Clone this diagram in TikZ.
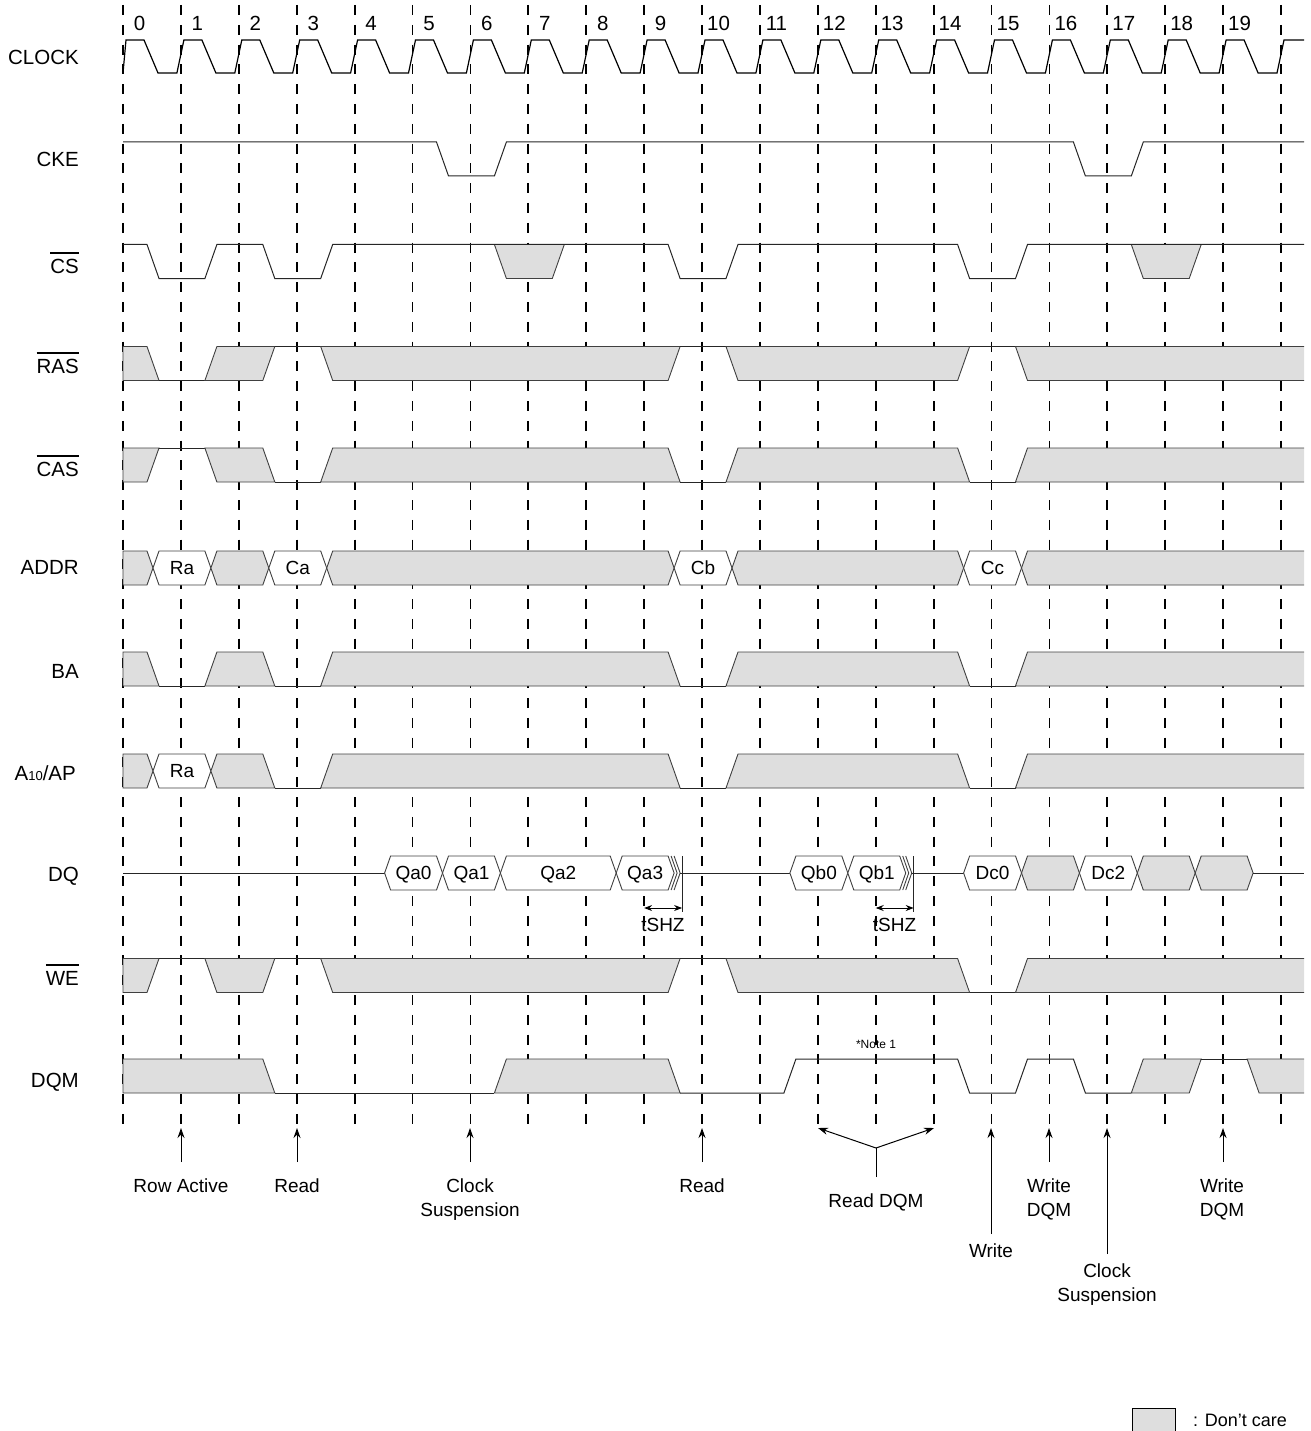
\documentclass[tikz,border=0pt]{standalone}
\usepackage{fontspec}
\setmainfont{Liberation Sans}
\usetikzlibrary{arrows.meta}
\definecolor{dcgray}{RGB}{222,222,222}
\newcommand\xL[1]{(123+57.9*(#1))}
\newcommand\tS[1]{(147+57.9*(#1))}
\newcommand\tE[1]{(159+57.9*(#1))}
\newcommand\busseg[3]{\filldraw[#3] ({\tS{#1}+6},0) -- ({\tE{#1}},-17) -- ({\tS{#2}},-17) -- ({\tS{#2}+6},0) -- ({\tS{#2}},17) -- ({\tE{#1}},17) -- cycle;}
\newcommand\busmid[2]{({(\tS{#1}+\tS{#2})/2+6},6.8)}
\newcommand\hiz[1]{\draw[dcl] ({\tS{#1}+3},-17) -- ({\tS{#1}+9},0) -- ({\tS{#1}+3},17);
  \draw[dcl] ({\tS{#1}+6},-17) -- ({\tS{#1}+12},0) -- ({\tS{#1}+6},17);
  \draw[sig] ({\tS{#1}+14},-17) -- ({\tS{#1}+14},39);}
\newcommand\lowtail{%
  \filldraw[dc] ({\tS{3}},17) -- ({\tE{3}},-17) -- ({\tS{9}},-17) -- ({\tE{9}},17) -- cycle;
  \draw[sig] ({\tE{9}},17) -- ({\tS{10}},17);
  \filldraw[dc] ({\tS{10}},17) -- ({\tE{10}},-17) -- ({\tS{14}},-17) -- ({\tE{14}},17) -- cycle;
  \draw[sig] ({\tE{14}},17) -- ({\tS{15}},17);
  \fill[dcgray] ({\tS{15}},17) -- ({\tE{15}},-17) -- (1304,-17) -- (1304,17) -- cycle;
  \draw[dcl] (1304,17) -- ({\tS{15}},17) -- ({\tE{15}},-17) -- (1304,-17);}
\newcommand\ovl[1]{\leavevmode\vbox{\hrule height 1.6pt\kern 5pt\hbox{#1}}}
\tikzset{
  sig/.style={line width=1pt, draw=black!85},
  clk/.style={line width=1.2pt, draw=black},
  dc/.style={fill=dcgray, draw=black!75, line width=0.9pt},
  dcl/.style={draw=black!75, line width=0.9pt},
  val/.style={fill=white, draw=black!75, line width=0.9pt},
  tline/.style={line width=1.8pt, dash pattern=on 10pt off 9.8pt},
  lbl/.style={font=\fontsize{20.5}{24}\selectfont, anchor=base east, inner sep=0pt},
  num/.style={font=\fontsize{20.5}{24}\selectfont, anchor=base, inner sep=0pt},
  btxt/.style={font=\fontsize{19}{22}\selectfont, inner sep=0pt, anchor=base},
  ann/.style={font=\fontsize{19}{24}\selectfont, anchor=base, inner sep=0pt},
  arr/.style={-{Stealth[length=10pt,width=7pt]}, line width=1pt},
  dim/.style={{Stealth[length=8pt,width=6pt]}-{Stealth[length=8pt,width=6pt]}, line width=1pt},
}
\newcommand\two[2]{\begin{tabular}[t]{@{}c@{}}#1\\#2\end{tabular}}
\begin{document}
\begin{tikzpicture}[x=1pt,y=-1pt]
\useasboundingbox (0,0) rectangle (1310,1431);
% time grid
\foreach \k in {0,...,20} \draw[tline] ({\xL{\k}},5) -- ({\xL{\k}},1128);
\foreach \k in {0,...,19} \node[num] (n\k) at ({\xL{\k}+16.5},30.5) {\k};
% labels
\node[lbl] (lclk) at (79,65) {CLOCK};
\node[lbl] (lcke) at (79,167) {CKE};
\node[lbl] (lcs) at (79,273) {\ovl{CS}};
\node[lbl] (lras) at (79,373) {\ovl{RAS}};
\node[lbl] (lcas) at (79,476) {\ovl{CAS}};
\node[lbl] (laddr) at (79,574) {ADDR};
\node[lbl] (lba) at (79,678) {BA};
\node[lbl] (la10) at (76,780) {A{\fontsize{13}{13}\selectfont 10}/AP};
\node[lbl] (ldq) at (79,881) {DQ};
\node[lbl] (lwe) at (79,985) {\ovl{WE}};
\node[lbl] (ldqm) at (79,1087) {DQM};
% CLOCK
\draw[clk] (123,73) \foreach \k in {0,...,19}{ -- ({\xL{\k}+3},40) -- ({\xL{\k}+21},40) -- ({\xL{\k}+35},73) -- ({\xL{\k}+53.9},73) } -- (1284,40) -- (1304,40);
% CKE
\begin{scope}[shift={(0,159)}]
\draw[sig] (123,-17) -- ({\tS{5}},-17) -- ({\tE{5}},17) -- ({\tS{6}},17) -- ({\tE{6}},-17) -- ({\tS{16}},-17) -- ({\tE{16}},17) -- ({\tS{17}},17) -- ({\tE{17}},-17) -- (1304,-17);
\end{scope}
% CS
\begin{scope}[shift={(0,261.5)}]
\filldraw[dc] ({\tS{6}},-17) -- ({\tE{6}},17) -- ({\tS{7}},17) -- ({\tE{7}},-17) -- cycle;
\filldraw[dc] ({\tS{17}},-17) -- ({\tE{17}},17) -- ({\tS{18}},17) -- ({\tE{18}},-17) -- cycle;
\draw[sig] (123,-17) -- ({\tS{0}},-17) -- ({\tE{0}},17) -- ({\tS{1}},17) -- ({\tE{1}},-17) -- ({\tS{2}},-17) -- ({\tE{2}},17) -- ({\tS{3}},17) -- ({\tE{3}},-17) -- ({\tS{9}},-17) -- ({\tE{9}},17) -- ({\tS{10}},17) -- ({\tE{10}},-17) -- ({\tS{14}},-17) -- ({\tE{14}},17) -- ({\tS{15}},17) -- ({\tE{15}},-17) -- (1304,-17);
\end{scope}
% RAS
\begin{scope}[shift={(0,363.5)}]
\filldraw[dc] (123,-17) -- ({\tS{0}},-17) -- ({\tE{0}},17) -- (123,17) -- cycle;
\draw[sig] ({\tE{0}},17) -- ({\tS{1}},17);
\filldraw[dc] ({\tS{1}},17) -- ({\tE{1}},-17) -- ({\tE{2}},-17) -- ({\tS{2}},17) -- cycle;
\draw[sig] ({\tE{2}},-17) -- ({\tS{3}},-17);
\filldraw[dc] ({\tS{3}},-17) -- ({\tE{9}},-17) -- ({\tS{9}},17) -- ({\tE{3}},17) -- cycle;
\draw[sig] ({\tE{9}},-17) -- ({\tS{10}},-17);
\filldraw[dc] ({\tS{10}},-17) -- ({\tE{14}},-17) -- ({\tS{14}},17) -- ({\tE{10}},17) -- cycle;
\draw[sig] ({\tE{14}},-17) -- ({\tS{15}},-17);
\fill[dcgray] ({\tS{15}},-17) -- (1304,-17) -- (1304,17) -- ({\tE{15}},17) -- cycle;
\draw[dcl] (1304,-17) -- ({\tS{15}},-17) -- ({\tE{15}},17) -- (1304,17);
\end{scope}
% CAS
\begin{scope}[shift={(0,465)}]
\filldraw[dc] (123,-17) -- ({\tE{0}},-17) -- ({\tS{0}},17) -- (123,17) -- cycle;
\draw[sig] ({\tE{0}},-17) -- ({\tS{1}},-17);
\filldraw[dc] ({\tS{1}},-17) -- ({\tS{2}},-17) -- ({\tE{2}},17) -- ({\tE{1}},17) -- cycle;
\draw[sig] ({\tE{2}},17) -- ({\tS{3}},17);
\lowtail
\end{scope}
% ADDR
\begin{scope}[shift={(0,568)}]
\filldraw[dc] (123,-17) -- ({\tS{0}},-17) -- ({\tS{0}+6},0) -- ({\tS{0}},17) -- (123,17) -- cycle;
\busseg{0}{1}{val} \node[btxt] (ra) at \busmid{0}{1} {Ra};
\busseg{1}{2}{dc}
\busseg{2}{3}{val} \node[btxt] (ca) at \busmid{2}{3} {Ca};
\busseg{3}{9}{dc}
\busseg{9}{10}{val} \node[btxt] (cb) at \busmid{9}{10} {Cb};
\busseg{10}{14}{dc}
\busseg{14}{15}{val} \node[btxt] (cc) at \busmid{14}{15} {Cc};
\fill[dcgray] ({\tS{15}+6},0) -- ({\tE{15}},-17) -- (1304,-17) -- (1304,17) -- ({\tE{15}},17) -- cycle;
\draw[dcl] (1304,-17) -- ({\tE{15}},-17) -- ({\tS{15}+6},0) -- ({\tE{15}},17) -- (1304,17);
\end{scope}
% BA
\begin{scope}[shift={(0,669)}]
\filldraw[dc] (123,-17) -- ({\tS{0}},-17) -- ({\tE{0}},17) -- (123,17) -- cycle;
\draw[sig] ({\tE{0}},17) -- ({\tS{1}},17);
\filldraw[dc] ({\tS{1}},17) -- ({\tE{1}},-17) -- ({\tS{2}},-17) -- ({\tE{2}},17) -- cycle;
\draw[sig] ({\tE{2}},17) -- ({\tS{3}},17);
\lowtail
\end{scope}
% A10/AP
\begin{scope}[shift={(0,771)}]
\filldraw[dc] (123,-17) -- ({\tS{0}},-17) -- ({\tS{0}+6},0) -- ({\tS{0}},17) -- (123,17) -- cycle;
\busseg{0}{1}{val} \node[btxt] (ra2) at \busmid{0}{1} {Ra};
\filldraw[dc] ({\tS{1}+6},0) -- ({\tE{1}},-17) -- ({\tS{2}},-17) -- ({\tE{2}},17) -- ({\tE{1}},17) -- cycle;
\draw[sig] ({\tE{2}},17) -- ({\tS{3}},17);
\lowtail
\end{scope}
% DQ
\begin{scope}[shift={(0,873)}]
\draw[sig] (123,0) -- ({\tS{4}+6},0);
\busseg{4}{5}{val} \node[btxt] (qa0) at \busmid{4}{5} {Qa0};
\busseg{5}{6}{val} \node[btxt] (qa1) at \busmid{5}{6} {Qa1};
\busseg{6}{8}{val} \node[btxt] (qa2) at \busmid{6}{8} {Qa2};
\busseg{8}{9}{val} \node[btxt] (qa3) at \busmid{8}{9} {Qa3};
\hiz{9}
\draw[sig] ({\tS{9}+12},0) -- ({\tS{11}+6},0);
\coordinate (z1a) at ({\xL{9}},35); \coordinate (z1b) at ({\tS{9}+14},35);
\draw[dim] (z1a) -- (z1b);
\node[btxt, anchor=base west] (tshz1) at ({\xL{9}-3},58) {tSHZ};
\busseg{11}{12}{val} \node[btxt] (qb0) at \busmid{11}{12} {Qb0};
\busseg{12}{13}{val} \node[btxt] (qb1) at \busmid{12}{13} {Qb1};
\hiz{13}
\draw[sig] ({\tS{13}+12},0) -- ({\tS{14}+6},0);
\coordinate (z2a) at ({\xL{13}},35); \coordinate (z2b) at ({\tS{13}+14},35);
\draw[dim] (z2a) -- (z2b);
\node[btxt, anchor=base west] (tshz2) at ({\xL{13}-3},58) {tSHZ};
\busseg{14}{15}{val} \node[btxt] (dc0) at \busmid{14}{15} {Dc0};
\busseg{15}{16}{dc}
\busseg{16}{17}{val} \node[btxt] (dc2) at \busmid{16}{17} {Dc2};
\busseg{17}{18}{dc}
\busseg{18}{19}{dc}
\draw[sig] ({\tS{19}+6},0) -- (1304,0);
\end{scope}
% WE
\begin{scope}[shift={(0,975.5)}]
\filldraw[dc] (123,-17) -- ({\tE{0}},-17) -- ({\tS{0}},17) -- (123,17) -- cycle;
\draw[sig] ({\tE{0}},-17) -- ({\tS{1}},-17);
\filldraw[dc] ({\tS{1}},-17) -- ({\tE{2}},-17) -- ({\tS{2}},17) -- ({\tE{1}},17) -- cycle;
\draw[sig] ({\tE{2}},-17) -- ({\tS{3}},-17);
\filldraw[dc] ({\tS{3}},-17) -- ({\tE{9}},-17) -- ({\tS{9}},17) -- ({\tE{3}},17) -- cycle;
\draw[sig] ({\tE{9}},-17) -- ({\tS{10}},-17);
\filldraw[dc] ({\tS{10}},-17) -- ({\tS{14}},-17) -- ({\tE{14}},17) -- ({\tE{10}},17) -- cycle;
\draw[sig] ({\tE{14}},17) -- ({\tS{15}},17);
\fill[dcgray] ({\tS{15}},17) -- ({\tE{15}},-17) -- (1304,-17) -- (1304,17) -- cycle;
\draw[dcl] (1304,17) -- ({\tS{15}},17) -- ({\tE{15}},-17) -- (1304,-17);
\end{scope}
% DQM
\begin{scope}[shift={(0,1076)}]
\filldraw[dc] (123,-17) -- ({\tS{2}},-17) -- ({\tE{2}},17) -- (123,17) -- cycle;
\draw[sig] ({\tE{2}},17) -- ({\tS{6}},17);
\filldraw[dc] ({\tS{6}},17) -- ({\tE{6}},-17) -- ({\tS{9}},-17) -- ({\tE{9}},17) -- cycle;
\draw[sig] ({\tE{9}},17) -- ({\tS{11}},17) -- ({\tE{11}},-17) -- ({\tS{14}},-17) -- ({\tE{14}},17) -- ({\tS{15}},17) -- ({\tE{15}},-17) -- ({\tS{16}},-17) -- ({\tE{16}},17) -- ({\tS{17}},17);
\filldraw[dc] ({\tS{17}},17) -- ({\tE{17}},-17) -- ({\tE{18}},-17) -- ({\tS{18}},17) -- cycle;
\draw[sig] ({\tE{18}},-17) -- ({\tS{19}},-17);
\fill[dcgray] ({\tS{19}},-17) -- (1304,-17) -- (1304,17) -- ({\tE{19}},17) -- cycle;
\draw[dcl] (1304,-17) -- ({\tS{19}},-17) -- ({\tE{19}},17) -- (1304,17);
\node[font=\fontsize{12}{14}\selectfont, inner sep=0pt] (note1) at (876,-32) {*Note 1};
\end{scope}
% command annotations
\node[ann] (rowact) at (181,1192) {Row Active};
\node[ann] (read1) at (297,1192) {Read};
\node[ann] (susp1) at (470,1192) {\two{Clock}{Suspension}};
\node[ann] (read2) at (702,1192) {Read};
\node[ann] (rdqm) at (876,1207) {Read DQM};
\node[ann] (write) at (991,1257) {Write};
\node[ann] (wdqm1) at (1049,1192) {\two{Write}{DQM}};
\node[ann] (susp2) at (1107,1277) {\two{Clock}{Suspension}};
\node[ann] (wdqm2) at (1222,1192) {\two{Write}{DQM}};
\foreach \nm/\xx/\yy in {rowact/181/1162, read1/297/1162, susp1/470/1162, read2/702/1162, write/991/1234, wdqm1/1049/1162, susp2/1107/1254, wdqm2/1223/1162}{
  \coordinate (\nm-t) at (\xx,\yy);
  \coordinate (\nm-h) at (\xx,1128);
  \draw[arr] (\nm-t) -- (\nm-h);
}
\coordinate (rdqm-v) at (876,1148);
\coordinate (rdqm-t) at (876,1177);
\coordinate (rdqm-l) at (818,1128);
\coordinate (rdqm-r) at (934,1128);
\draw[line width=1pt] (rdqm-t) -- (rdqm-v);
\draw[arr] (rdqm-v) -- (rdqm-l);
\draw[arr] (rdqm-v) -- (rdqm-r);
% legend
\filldraw[fill=dcgray, draw=black, line width=0.9pt] (1132,1408) rectangle (1175,1431);
\node[font=\fontsize{18}{22}\selectfont, anchor=base west, inner sep=0pt] (dclbl) at (1193,1426) {: Don't care};
\end{tikzpicture}
\end{document}
